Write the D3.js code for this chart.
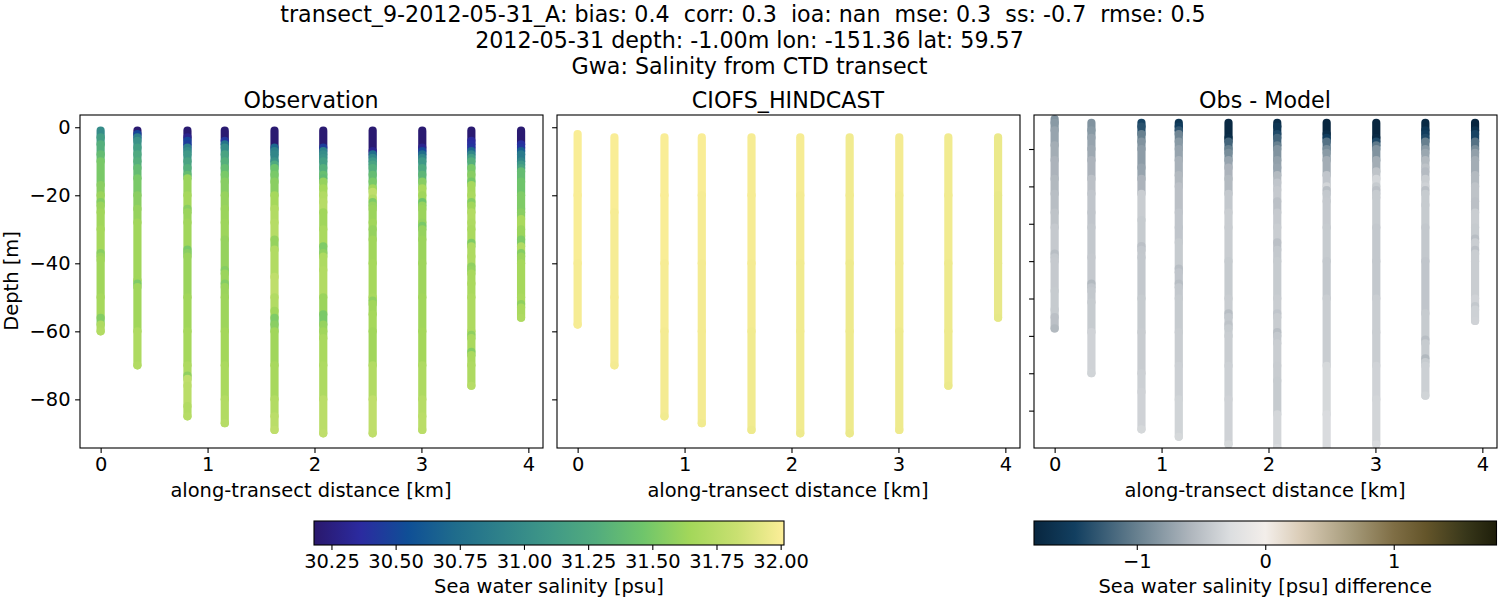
<!DOCTYPE html>
<html>
<head>
<meta charset="utf-8">
<script src="https://cdn.jsdelivr.net/npm/d3@7"></script>
<style>
  body { margin: 0; background: #fff; }
  text { font-family: "DejaVu Sans", sans-serif; fill: #000; white-space: pre; }
</style>
</head>
<body>
<svg id="canvas"></svg>
<script>
let width = 1500;
let height = 600;

let suptitle = [
  "transect_9-2012-05-31_A: bias: 0.4  corr: 0.3  ioa: nan  mse: 0.3  ss: -0.7  rmse: 0.5",
  "2012-05-31 depth: -1.00m lon: -151.36 lat: 59.57",
  "Gwa: Salinity from CTD transect",
];

// along-transect position of each cast, km
let castKm = [0, 0.344, 0.812, 1.161, 1.626, 2.082, 2.544, 3.008, 3.467, 3.932];

// Observation: depth readings (m below surface) and salinity for each cast
let obsDepth = [
  [1,3,5,8,10,17,20,22,23,25,30,37,38,39,50,56,58,60],
  [1,2,3,4,6,8,10,12,15,20,24,28,45,46,47,60,70],
  [1,3,4,5,6,7,8,10,12,14,15,20,24,25,28,36,37,38,50,60,70,73,74,76,82,85],
  [1,4,5,6,8,10,12,14,16,20,24,28,33,42,43,46,47,50,60,70,80,87],
  [1,6,7,8,10,11,12,14,16,20,24,28,33,36,44,50,54,56,58,60,70,80,85,89],
  [1,6,7,8,9,10,12,14,15,16,18,20,22,25,30,35,37,38,42,50,55,58,60,62,70,80,90],
  [1,7,8,9,10,11,12,14,16,18,19,21,22,23,24,28,30,33,40,50,51,52,55,60,70,80,90],
  [1,6,7,8,9,10,12,14,16,18,20,22,23,24,28,29,30,33,40,50,60,70,80,85,89],
  [1,4,5,6,7,8,9,10,12,14,16,17,20,22,23,25,28,30,34,35,38,41,42,43,46,50,60,61,62,66,67,70,76],
  [1,5,6,7,8,10,11,12,13,16,20,24,25,27,30,32,33,35,37,38,40,50,52,53,56],
];
let obsSalinity = [
  [31.0,31.15,31.3,31.4,31.5,31.56,31.62,31.54,31.62,31.64,31.66,31.56,31.62,31.64,31.66,31.54,31.7,31.72],
  [30.2,30.5,30.9,31.05,31.15,31.25,31.3,31.4,31.5,31.56,31.6,31.64,31.64,31.52,31.64,31.7,31.72],
  [30.2,30.3,30.5,30.45,30.9,31.0,31.1,31.2,31.3,31.4,31.62,31.66,31.56,31.62,31.64,31.5,31.56,31.62,31.64,31.66,31.7,31.58,31.78,31.76,31.72,31.74],
  [30.2,30.42,30.8,31.0,31.2,31.3,31.4,31.5,31.55,31.6,31.62,31.63,31.6,31.54,31.62,31.54,31.62,31.63,31.65,31.68,31.72,31.74],
  [30.2,30.7,30.9,30.95,31.05,31.25,31.45,31.5,31.56,31.66,31.72,31.74,31.6,31.72,31.78,31.72,31.64,31.52,31.56,31.64,31.67,31.72,31.76,31.78],
  [30.2,30.45,30.9,31.0,31.05,31.15,31.3,31.42,31.38,31.6,31.66,31.72,31.74,31.64,31.68,31.52,31.58,31.7,31.72,31.62,31.5,31.6,31.64,31.68,31.7,31.76,31.78],
  [30.2,30.3,30.75,30.95,31.1,31.2,31.3,31.4,31.5,31.64,31.78,31.72,31.52,31.6,31.62,31.64,31.6,31.64,31.66,31.68,31.58,31.64,31.66,31.64,31.72,31.78,31.78],
  [30.2,30.3,30.5,30.75,30.95,31.1,31.25,31.35,31.55,31.68,31.64,31.46,31.6,31.62,31.6,31.5,31.6,31.62,31.63,31.64,31.65,31.7,31.74,31.76,31.76],
  [30.2,30.35,30.38,30.42,30.7,30.95,31.15,31.3,31.5,31.55,31.48,31.66,31.68,31.54,31.64,31.72,31.7,31.68,31.52,31.7,31.7,31.58,31.6,31.67,31.68,31.7,31.7,31.58,31.68,31.54,31.68,31.7,31.74],
  [30.2,30.38,30.42,30.65,30.85,30.95,31.1,31.2,31.4,31.46,31.52,31.52,31.56,31.68,31.62,31.62,31.52,31.72,31.54,31.62,31.66,31.68,31.58,31.68,31.7],
];

// CIOFS_HINDCAST
let modelDepth = [
  [2,20,40,58],
  [3,25,50,70],
  [3,20,40,60,85],
  [3,20,40,60,87],
  [3,20,40,60,89],
  [3,20,40,60,90],
  [3,20,40,60,90],
  [3,20,40,60,89],
  [3,20,40,60,76],
  [3,20,40,56],
];
let modelSalinity = [
  [32.0,32.0,31.99,31.99],
  [32.0,31.99,31.99,31.98],
  [32.0,32.0,31.99,31.98,31.97],
  [32.0,31.99,31.98,31.98,31.97],
  [31.99,31.99,31.98,31.97,31.96],
  [31.99,31.98,31.97,31.97,31.96],
  [31.97,31.97,31.96,31.96,31.95],
  [31.98,31.97,31.97,31.96,31.96],
  [31.97,31.97,31.96,31.96,31.95],
  [31.95,31.94,31.94,31.93],
];

// Obs - Model (this panel has its own depth axis)
let diffDepth = [
  [2,3,5,9,13,18,22,27,31,38,39,40,48,53,55,58],
  [3,5,7,10,13,18,22,27,31,39,46,47,48,51,59,70],
  [3,4,6,8,10,15,18,22,29,36,37,39,50,59,70,75,85],
  [3,4,5,6,8,10,13,17,20,27,31,35,42,43,46,47,50,59,68,77,87],
  [3,7,8,10,11,13,15,18,22,27,31,40,50,54,55,57,58,60,68,77,89],
  [3,4,6,7,9,10,13,15,17,19,21,24,27,31,35,37,40,50,54,55,59,60,62,68,72,81,90],
  [3,6,7,8,10,11,13,17,20,21,22,24,31,40,50,68,81,90],
  [3,7,8,9,10,13,16,18,20,21,22,23,31,40,50,59,68,77,89],
  [3,5,6,7,8,10,11,13,15,16,18,20,21,22,25,31,40,54,61,62,66,67,68,76],
  [3,5,6,8,10,11,13,17,20,24,27,31,34,35,37,38,40,50,52,53,56],
];
let diffValue = [
  [-0.85,-0.8,-0.72,-0.65,-0.6,-0.56,-0.52,-0.48,-0.43,-0.52,-0.44,-0.43,-0.42,-0.42,-0.5,-0.56],
  [-0.85,-0.8,-0.72,-0.68,-0.6,-0.5,-0.46,-0.46,-0.44,-0.43,-0.55,-0.46,-0.44,-0.42,-0.36,-0.35],
  [-1.45,-1.35,-1.0,-0.85,-0.78,-0.72,-0.6,-0.4,-0.42,-0.5,-0.45,-0.44,-0.42,-0.41,-0.38,-0.36,-0.32],
  [-1.6,-1.5,-1.3,-0.95,-0.8,-0.72,-0.62,-0.56,-0.5,-0.46,-0.46,-0.42,-0.52,-0.46,-0.52,-0.44,-0.42,-0.4,-0.38,-0.35,-0.32],
  [-1.75,-1.7,-1.2,-1.0,-0.9,-0.72,-0.6,-0.55,-0.44,-0.4,-0.4,-0.42,-0.4,-0.52,-0.44,-0.48,-0.42,-0.4,-0.38,-0.36,-0.31],
  [-1.7,-1.6,-1.4,-1.2,-1.0,-0.85,-0.75,-0.72,-0.55,-0.46,-0.43,-0.5,-0.43,-0.4,-0.5,-0.44,-0.42,-0.4,-0.46,-0.41,-0.52,-0.44,-0.4,-0.41,-0.42,-0.33,-0.29],
  [-1.8,-1.7,-1.5,-1.1,-0.9,-0.8,-0.65,-0.46,-0.34,-0.52,-0.44,-0.43,-0.42,-0.44,-0.4,-0.32,-0.29],
  [-1.8,-1.75,-1.4,-1.05,-0.85,-0.65,-0.48,-0.33,-0.42,-0.5,-0.42,-0.42,-0.44,-0.44,-0.4,-0.4,-0.36,-0.34,-0.29],
  [-1.75,-1.6,-1.5,-1.4,-1.0,-0.8,-0.7,-0.55,-0.48,-0.54,-0.4,-0.36,-0.5,-0.42,-0.42,-0.44,-0.46,-0.42,-0.52,-0.42,-0.56,-0.42,-0.38,-0.35],
  [-1.8,-1.65,-1.45,-1.1,-0.9,-0.75,-0.65,-0.55,-0.48,-0.5,-0.4,-0.42,-0.52,-0.4,-0.5,-0.4,-0.4,-0.36,-0.44,-0.37,-0.36],
];

let haline = ["#2a186c","#2b2ba0","#0f4f96","#1f6c8c","#2f828a","#3f9887","#52ac7e","#6fc56b","#a3d75a","#c9e071","#fdee99"];
let diffStops = [-1.8,-1.48,-1,-0.58,-0.27,0,0.27,0.66,1,1.25,1.56,1.8];
let diffColors = ["#08263f","#123f60","#67808f","#afb6bd","#dcdee0","#f3eeea","#dbcdb8","#a79c7c","#7f6e45","#64552a","#38371a","#1e1e0a"];

let salTicks = [30.25,30.5,30.75,31,31.25,31.5,31.75,32];
let diffTicks = [-1,0,1];
let kmTicks = [0,1,2,3,4];
let depthTicks = [0,20,40,60,80];
let diffDepthTicks = [10,20,30,40,50,60,70,80];

let panelTop = 115;
let panelBottom = 448;
let panelWidth = 463;
let barTop = 521;
let barBottom = 545;
let dotSize = 8.2;
let tickLen = 4.9;
let tickFont = 19.44;
let titleFont = 22.2;

let salMin = 30.182;
let salMax = 32.013;
let salStops = d3.range(11).map((i) => salMin + (i / 10) * (salMax - salMin));
let salColor = d3.scaleLinear().domain(salStops).range(haline);
let diffColor = d3.scaleLinear().domain(diffStops).range(diffColors);

let canvas = d3.select("#canvas").attr("width", width).attr("height", height);
let defs = canvas.append("defs");

let styleAxis = (g) => {
  g.selectAll("path.domain").remove();
  g.selectAll("line").attr("stroke", "#000").attr("stroke-width", 1.1);
  g.selectAll("text").attr("font-size", tickFont).attr("fill", "#000").attr("font-family", "DejaVu Sans");
};

let drawPanel = (opts) => {
  let left = opts.left;
  let xScale = d3.scaleLinear().domain([-0.193, 4.137]).range([left, left + panelWidth]);
  let yScale = d3.scaleLinear().domain(opts.yDomain).range([panelTop, panelBottom]);
  let clipId = "clip" + left;

  defs.append("clipPath").attr("id", clipId)
    .append("rect")
    .attr("x", left).attr("y", panelTop)
    .attr("width", panelWidth).attr("height", panelBottom - panelTop);

  // one round capped piece for every reading, down to the next reading
  let segments = [];
  opts.depth.forEach((depths, c) => {
    depths.forEach((d, i) => {
      segments.push({
        cast: c,
        d0: d,
        d1: i < depths.length - 1 ? depths[i + 1] : d,
        value: opts.values[c][i],
      });
    });
  });

  canvas.append("g")
    .attr("clip-path", "url(#" + clipId + ")")
    .selectAll("line")
    .data(segments)
    .enter()
    .append("line")
    .attr("x1", (s) => xScale(castKm[s.cast]))
    .attr("x2", (s) => xScale(castKm[s.cast]))
    .attr("y1", (s) => yScale(s.d0))
    .attr("y2", (s) => yScale(s.d1))
    .attr("stroke", (s) => opts.color(s.value))
    .attr("stroke-width", dotSize)
    .attr("stroke-linecap", "round");

  canvas.append("g")
    .attr("transform", "translate(0," + panelBottom + ")")
    .call(d3.axisBottom(xScale).tickValues(kmTicks).tickFormat(d3.format("d")).tickSize(tickLen).tickPadding(4.5))
    .call(styleAxis);

  let yAxis = d3.axisLeft(yScale).tickValues(opts.yTicks).tickSize(tickLen).tickPadding(4.5)
    .tickFormat(opts.yLabels ? (d) => d3.format("d")(d === 0 ? 0 : -d) : "");
  canvas.append("g")
    .attr("transform", "translate(" + left + ",0)")
    .call(yAxis)
    .call(styleAxis);

  canvas.append("rect")
    .attr("x", left).attr("y", panelTop)
    .attr("width", panelWidth).attr("height", panelBottom - panelTop)
    .attr("fill", "none").attr("stroke", "#000").attr("stroke-width", 1.1);

  canvas.append("text")
    .attr("x", left + panelWidth / 2 - 0.5).attr("y", 107.5)
    .attr("text-anchor", "middle").attr("font-size", titleFont)
    .text(opts.title);

  canvas.append("text")
    .attr("x", left + panelWidth / 2 - 0.5).attr("y", 497)
    .attr("text-anchor", "middle").attr("font-size", tickFont)
    .text("along-transect distance [km]");
};

let drawColorbar = (opts) => {
  let xScale = d3.scaleLinear().domain(opts.domain).range([opts.left, opts.right]);
  let gradId = "grad" + opts.left;
  let span = opts.domain[1] - opts.domain[0];

  defs.append("linearGradient").attr("id", gradId)
    .selectAll("stop")
    .data(opts.stops)
    .enter()
    .append("stop")
    .attr("offset", (v) => (v - opts.domain[0]) / span)
    .attr("stop-color", (v) => opts.color(v));

  canvas.append("rect")
    .attr("x", opts.left).attr("y", barTop)
    .attr("width", opts.right - opts.left).attr("height", barBottom - barTop)
    .attr("fill", "url(#" + gradId + ")")
    .attr("stroke", "#000").attr("stroke-width", 1.1);

  canvas.append("g")
    .attr("transform", "translate(0," + barBottom + ")")
    .call(d3.axisBottom(xScale).tickValues(opts.ticks).tickFormat(opts.format).tickSize(tickLen).tickPadding(4.5))
    .call(styleAxis);

  canvas.append("text")
    .attr("x", (opts.left + opts.right) / 2).attr("y", 593)
    .attr("text-anchor", "middle").attr("font-size", tickFont)
    .text(opts.label);
};

canvas.selectAll("text.sup")
  .data(suptitle)
  .enter()
  .append("text")
  .attr("class", "sup")
  .attr("x", (d, i) => (i === 0 ? 743 : 749.5))
  .attr("y", (d, i) => 22 + i * 26)
  .attr("text-anchor", "middle")
  .attr("font-size", titleFont)
  .text((d) => d);

drawPanel({
  left: 80, title: "Observation", depth: obsDepth, values: obsSalinity, color: salColor,
  yDomain: [-3.6, 94.3], yTicks: depthTicks, yLabels: true,
});
drawPanel({
  left: 557, title: "CIOFS_HINDCAST", depth: modelDepth, values: modelSalinity, color: salColor,
  yDomain: [-3.6, 94.3], yTicks: depthTicks, yLabels: false,
});
drawPanel({
  left: 1034, title: "Obs - Model", depth: diffDepth, values: diffValue, color: diffColor,
  yDomain: [0.9, 90], yTicks: diffDepthTicks, yLabels: false,
});

canvas.append("text")
  .attr("transform", "translate(18,281) rotate(-90)")
  .attr("text-anchor", "middle")
  .attr("font-size", tickFont)
  .text("Depth [m]");

drawColorbar({
  left: 314, right: 784, domain: [salMin, salMax], color: salColor, stops: salStops, ticks: salTicks,
  format: d3.format(".2f"), label: "Sea water salinity [psu]",
});
drawColorbar({
  left: 1034, right: 1496.5, domain: [-1.8, 1.8], color: diffColor, stops: diffStops, ticks: diffTicks,
  format: d3.format("d"), label: "Sea water salinity [psu] difference",
});
</script>
</body>
</html>
